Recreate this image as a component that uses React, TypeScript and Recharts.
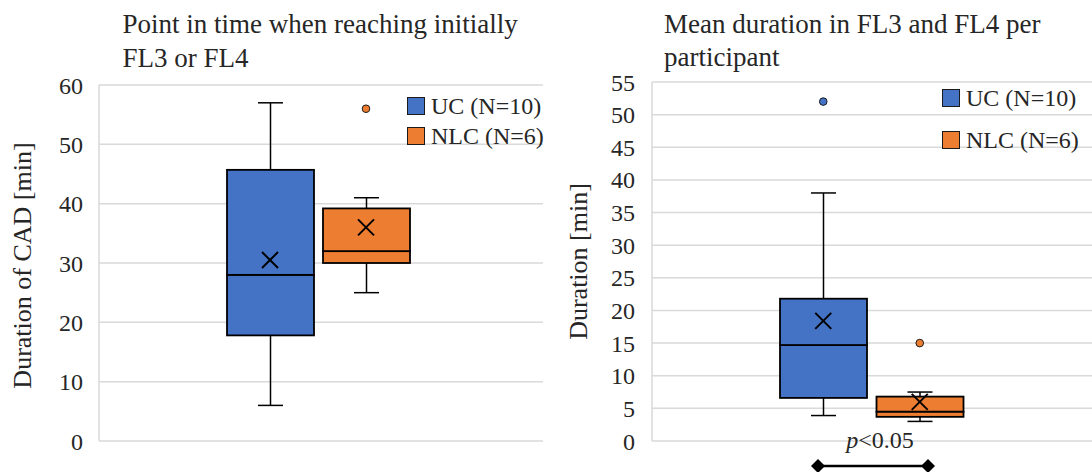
import React from 'react';
import { ComposedChart, Bar, Scatter, XAxis, YAxis, CartesianGrid, Legend, Cell } from 'recharts';

const groups = ['UC (N=10)', 'NLC (N=6)'];
const groupColors = ['#4472C4', '#ED7D31'];

// left chart: point in time when first reaching FL3 / FL4 [min]
const cadMin = [6, 25];
const cadQ1 = [17.8, 30];
const cadMedian = [28, 32];
const cadQ3 = [45.7, 39.2];
const cadMax = [57, 41];
const cadMean = [30.5, 36];
const cadOutliers = [[], [56]];
const cadTicks = [0, 10, 20, 30, 40, 50, 60];

// right chart: mean duration in FL3 and FL4 per participant [min]
const durMin = [3.9, 3.0];
const durQ1 = [6.6, 3.7];
const durMedian = [14.7, 4.5];
const durQ3 = [21.8, 6.8];
const durMax = [38, 7.5];
const durMean = [18.4, 6.0];
const durOutliers = [[52], [15]];
const durTicks = [0, 5, 10, 15, 20, 25, 30, 35, 40, 45, 50, 55];

const FONT = 'Liberation Serif, serif';
const TEXT = '#262626';

function buildRows(
  min: number[], q1: number[], med: number[], q3: number[], max: number[], mean: number[], outliers: number[][],
) {
  return groups.map((g, i) => ({
    group: g,
    color: groupColors[i],
    base: min[i],
    lowWhisker: q1[i] - min[i],
    lowerBox: med[i] - q1[i],
    upperBox: q3[i] - med[i],
    highWhisker: max[i] - q3[i],
    mean: mean[i],
    outlier: outliers[i].length ? outliers[i][0] : null,
  }));
}

const LowWhisker = (p: any) => {
  const cx = p.x + p.width / 2;
  const bottom = p.y + p.height;
  return (
    <g>
      <line x1={cx} x2={cx} y1={p.y} y2={bottom} stroke="#000" strokeWidth={1.5} />
      <line x1={cx - 12.5} x2={cx + 12.5} y1={bottom} y2={bottom} stroke="#000" strokeWidth={1.5} />
    </g>
  );
};

const HighWhisker = (p: any) => {
  const cx = p.x + p.width / 2;
  return (
    <g>
      <line x1={cx} x2={cx} y1={p.y} y2={p.y + p.height} stroke="#000" strokeWidth={1.5} />
      <line x1={cx - 12.5} x2={cx + 12.5} y1={p.y} y2={p.y} stroke="#000" strokeWidth={1.5} />
    </g>
  );
};

const BoxPart = (p: any) => (
  <rect x={p.x} y={p.y} width={p.width} height={p.height} fill={p.payload?.color ?? p.fill} stroke="#000" strokeWidth={1.8} />
);

const MeanMark = (p: any) => {
  const { cx, cy } = p;
  if (cx == null || cy == null || Number.isNaN(cy)) return <g />;
  const s = 8;
  return (
    <g>
      <line x1={cx - s} y1={cy - s} x2={cx + s} y2={cy + s} stroke="#000" strokeWidth={2} />
      <line x1={cx - s} y1={cy + s} x2={cx + s} y2={cy - s} stroke="#000" strokeWidth={2} />
    </g>
  );
};

const OutlierDot = (p: any) => {
  if (p.payload?.outlier == null || p.cy == null || Number.isNaN(p.cy)) return <g />;
  return <circle cx={p.cx} cy={p.cy} r={3.8} fill={p.payload.color} stroke="#1a1a1a" strokeWidth={1} />;
};

function LegendBox({ gap }: { gap: number }) {
  return (
    <div style={{ fontFamily: FONT, fontSize: 24, color: TEXT }}>
      {groups.map((g, i) => (
        <div key={g} style={{ display: 'flex', alignItems: 'center', height: 18, marginBottom: i === 0 ? gap : 0 }}>
          <div
            style={{
              width: 18,
              height: 18,
              boxSizing: 'border-box',
              border: '1.5px solid #1a1a1a',
              background: groupColors[i],
              marginRight: 6,
            }}
          />
          <span style={{ lineHeight: '18px', whiteSpace: 'nowrap' }}>{g}</span>
        </div>
      ))}
    </div>
  );
}

interface BoxChartProps {
  rows: ReturnType<typeof buildRows>;
  ticks: number[];
  margin: { top: number; right: number; bottom: number; left: number };
  padding: { left: number; right: number };
  tickMargin: number;
  legendPos: { left: number; top: number; gap: number };
}

function BoxChart({ rows, ticks, margin, padding, tickMargin, legendPos }: BoxChartProps) {
  return (
    <ComposedChart width={546} height={472} data={rows} margin={margin}>
      <CartesianGrid vertical={false} stroke="#d9d9d9" strokeWidth={1.5} />
      <XAxis dataKey="group" type="category" hide padding={padding} />
      <YAxis
        width={60}
        domain={[ticks[0], ticks[ticks.length - 1]]}
        ticks={ticks}
        interval={0}
        tickLine={false}
        tickMargin={tickMargin}
        axisLine={{ stroke: '#d9d9d9', strokeWidth: 1.5 }}
        tick={{ fontFamily: FONT, fontSize: 24, fill: TEXT }}
      />
      <Bar dataKey="base" stackId="box" fill="none" barSize={87} isAnimationActive={false} />
      <Bar dataKey="lowWhisker" stackId="box" barSize={87} shape={LowWhisker} isAnimationActive={false} />
      <Bar dataKey="lowerBox" stackId="box" barSize={87} shape={BoxPart} isAnimationActive={false}>
        {rows.map((r) => (
          <Cell key={r.group} fill={r.color} />
        ))}
      </Bar>
      <Bar dataKey="upperBox" stackId="box" barSize={87} shape={BoxPart} isAnimationActive={false}>
        {rows.map((r) => (
          <Cell key={r.group} fill={r.color} />
        ))}
      </Bar>
      <Bar dataKey="highWhisker" stackId="box" barSize={87} shape={HighWhisker} isAnimationActive={false} />
      <Scatter dataKey="mean" shape={MeanMark} isAnimationActive={false} />
      <Scatter dataKey="outlier" shape={OutlierDot} isAnimationActive={false} />
      <Legend
        layout="vertical"
        verticalAlign="middle"
        align="center"
        wrapperStyle={{ left: legendPos.left, top: legendPos.top, width: 150, right: 'auto', bottom: 'auto' }}
        content={() => <LegendBox gap={legendPos.gap} />}
      />
    </ComposedChart>
  );
}

export default function App() {
  const cadRows = buildRows(cadMin, cadQ1, cadMedian, cadQ3, cadMax, cadMean, cadOutliers);
  const durRows = buildRows(durMin, durQ1, durMedian, durQ3, durMax, durMean, durOutliers);

  return (
    <div style={{ position: 'absolute', left: 0, top: 0, width: 1092, height: 472, background: '#fff', overflow: 'hidden' }}>
      <div style={{ position: 'absolute', left: 0, top: 0 }}>
        <BoxChart
          rows={cadRows}
          ticks={cadTicks}
          margin={{ top: 85, right: 3, bottom: 31, left: 39 }}
          padding={{ left: 123, right: 129 }}
          tickMargin={10}
          legendPos={{ left: 407, top: 97, gap: 12 }}
        />
      </div>
      <div style={{ position: 'absolute', left: 546, top: 0 }}>
        <BoxChart
          rows={durRows}
          ticks={durTicks}
          margin={{ top: 82, right: 0, bottom: 31, left: 46 }}
          padding={{ left: 123, right: 124 }}
          tickMargin={11}
          legendPos={{ left: 396, top: 89, gap: 24 }}
        />
      </div>

      <svg
        width={1092}
        height={472}
        style={{ position: 'absolute', left: 0, top: 0, pointerEvents: 'none' }}
        fontFamily={FONT}
        fill={TEXT}
      >
        <text x={122.6} y={33.3} fontSize={27}>Point in time when reaching initially</text>
        <text x={122.6} y={66.7} fontSize={27}>FL3 or FL4</text>
        <text x={664} y={33.3} fontSize={27}>Mean duration in FL3 and FL4 per</text>
        <text x={664} y={66} fontSize={27}>participant</text>

        <text transform="translate(31,265.5) rotate(-90)" textAnchor="middle" fontSize={26}>
          Duration of CAD [min]
        </text>
        <text transform="translate(586.5,261.5) rotate(-90)" textAnchor="middle" fontSize={26}>
          Duration [min]
        </text>

        <text x={880} y={448} textAnchor="middle" fontSize={24}>
          <tspan fontStyle="italic">p</tspan>&lt;0.05
        </text>
        <line x1={818} y1={466} x2={928} y2={466} stroke="#000" strokeWidth={2.5} />
        <path d="M811 466 L818 459 L825 466 L818 473 Z" fill="#000" />
        <path d="M921 466 L928 459 L935 466 L928 473 Z" fill="#000" />
      </svg>
    </div>
  );
}
